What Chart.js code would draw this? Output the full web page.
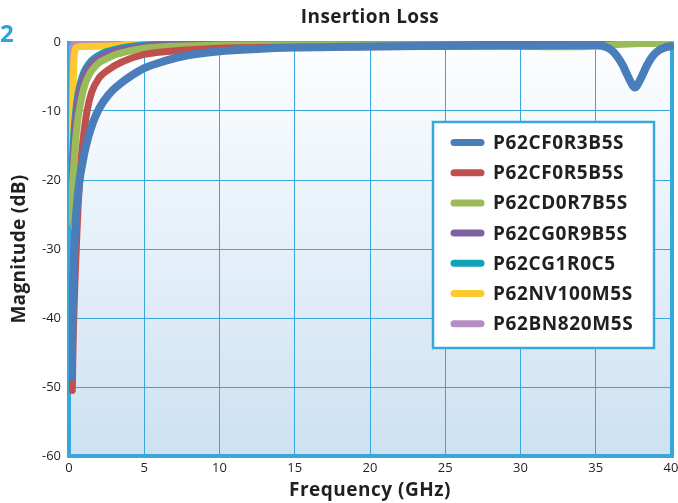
<!DOCTYPE html>
<html>
<head>
<meta charset="utf-8">
<script src="https://cdn.jsdelivr.net/npm/chart.js@4.4.1/dist/chart.umd.min.js"></script>
<style>
html,body{margin:0;padding:0;background:#ffffff;}
#wrap{position:relative;width:678px;height:503px;}
</style>
</head>
<body>
<div id="wrap"><canvas id="c"></canvas></div>
<script>
// ---- data ----
const seriesNames = ['P62CF0R3B5S','P62CF0R5B5S','P62CD0R7B5S','P62CG0R9B5S','P62CG1R0C5','P62NV100M5S','P62BN820M5S'];
const seriesColors = ['#4a7ebb','#c0504d','#9bbb59','#7f63a1','#0fa3b6','#fdc92e','#b48ec3'];

const freqBlue = [0.15,0.2,0.28,0.4,0.55,0.7,0.9,1.05,1.3,1.6,1.9,2.3,2.9,3.5,4,5,6,7.5,10,12.5,15,20,25,30,35,35.5,36,36.4,36.8,37.1,37.4,37.6,37.8,38.1,38.4,38.8,39.2,39.6,40];
const magBlue  = [-48.5,-43,-34.5,-27.5,-23,-20,-17.5,-15.8,-13.6,-11.6,-10.1,-8.6,-7.0,-5.9,-5.1,-3.8,-3.0,-2.1,-1.35,-1.0,-0.8,-0.65,-0.55,-0.5,-0.45,-0.6,-1.1,-2.0,-3.4,-4.8,-6.1,-6.6,-6.1,-4.8,-3.4,-2.0,-1.2,-0.8,-0.6];

const freqRed = [0.22,0.25,0.3,0.4,0.5,0.6,0.7,0.85,1.0,1.2,1.5,2,2.5,3.5,5,7.5,10,15,20,25,30,35,35.5,36,36.4,36.8,37.1,37.4,37.6,37.8,38.1,38.4,38.8,39.2,39.6,40];
const magRed  = [-50.5,-46,-41,-34.5,-29,-24,-20.5,-16,-13,-10,-7.3,-5.2,-4.2,-2.9,-1.8,-1.2,-0.9,-0.75,-0.7,-0.6,-0.55,-0.5,-0.6,-1.1,-2.0,-3.4,-4.8,-6.1,-6.6,-6.1,-4.8,-3.4,-2.0,-1.2,-0.8,-0.6];

const freqGreen = [0.1,0.2,0.3,0.45,0.6,0.8,1.0,1.3,1.6,2,2.5,3,4,5,7,10,15,20,25,30,33,35,36.5,38,40];
const magGreen  = [-26,-22,-18.5,-14,-11,-8.5,-6.6,-4.9,-3.9,-3.0,-2.4,-1.9,-1.3,-0.9,-0.6,-0.45,-0.4,-0.4,-0.45,-0.6,-0.7,-0.6,-0.35,-0.2,-0.2];

const freqPurple = [0.1,0.2,0.3,0.45,0.6,0.8,1.0,1.3,1.6,2,2.5,3,4,5,7,10,20,30,40];
const magPurple  = [-26,-20,-15.5,-11,-8.3,-6.2,-4.8,-3.6,-2.8,-2.2,-1.7,-1.3,-0.9,-0.6,-0.35,-0.25,-0.2,-0.2,-0.2];

const freqTeal = [0.1,0.2,0.3,0.45,0.6,0.8,1.0,1.3,1.6,2,2.5,3,4,5,7,10,20,30,40];
const magTeal  = [-26,-19,-14,-10,-7.5,-5.6,-4.3,-3.2,-2.5,-1.9,-1.4,-1.1,-0.7,-0.45,-0.25,-0.15,-0.1,-0.1,-0.1];

const freqYellow = [0.15,0.22,0.28,0.34,0.42,0.6,1,2,3,3.5,4,4.5,5,10,20,30,40];
const magYellow  = [-26,-15,-6,-2.2,-1.0,-0.7,-0.65,-0.6,-0.55,-0.45,-0.2,-0.05,0,0,0,0,0];

const freqLav = [0.1,0.13,0.17,0.22,0.3,0.5,1,40];
const magLav  = [-26,-12,-4,-1,-0.3,-0.1,0,0];

const xTickValues = [0,5,10,15,20,25,30,35,40];
const yTickValues = [-60,-50,-40,-30,-20,-10,0];

const chartTitle = 'Insertion Loss';
const xTitle = 'Frequency (GHz)';
const yTitle = 'Magnitude (dB)';
const figureNumber = '2';

const allFreq = [freqBlue,freqRed,freqGreen,freqPurple,freqTeal,freqYellow,freqLav];
const allMag  = [magBlue,magRed,magGreen,magPurple,magTeal,magYellow,magLav];

// ---- styling ----
const FONT = "'Open Sans', 'Noto Sans', sans-serif";
const TEXT = '#231f20';
const FRAME = '#38a8dc';

const datasets = seriesNames.map((name, i) => ({
  label: name,
  data: allFreq[i].map((f, k) => ({x: f, y: allMag[i][k]})),
  borderColor: seriesColors[i],
  backgroundColor: seriesColors[i],
  borderWidth: i === 0 ? 8 : 7,
  borderCapStyle: 'round',
  borderJoinStyle: 'round',
  pointRadius: 0,
  fill: false,
  cubicInterpolationMode: 'monotone',
  clip: {left: 0, top: 1, right: 3, bottom: 0}
}));

function spacedText(ctx, txt, x, y, spacing) {
  ctx.letterSpacing = spacing;
  ctx.fillText(txt, x, y);
  ctx.letterSpacing = '0px';
}

const bgPlugin = {
  id: 'bg',
  beforeDraw(chart) {
    const {ctx, chartArea: a} = chart;
    const g = ctx.createLinearGradient(0, a.top, 0, a.bottom);
    g.addColorStop(0, '#fdfeff');
    g.addColorStop(1, '#cde1f2');
    ctx.save();
    ctx.fillStyle = g;
    ctx.fillRect(a.left, a.top, a.right - a.left, a.bottom - a.top);
    ctx.restore();
  },
  beforeDatasetsDraw(chart) {
    const {ctx, chartArea: a} = chart;
    ctx.save();
    ctx.strokeStyle = FRAME;
    ctx.lineWidth = 2;
    ctx.beginPath(); ctx.moveTo(a.left, a.top); ctx.lineTo(a.right, a.top); ctx.stroke();
    ctx.lineWidth = 4;
    ctx.beginPath();
    ctx.moveTo(a.left, a.top - 1); ctx.lineTo(a.left, a.bottom);
    ctx.lineTo(a.right + 1, a.bottom);
    ctx.moveTo(a.right + 1, a.top - 1); ctx.lineTo(a.right + 1, a.bottom + 2);
    ctx.stroke();
    ctx.restore();
  },
  afterDatasetsDraw(chart) {
    const {ctx} = chart;
    const bx = 433, by = 122, bw = 221, bh = 226;
    ctx.save();
    ctx.fillStyle = '#ffffff';
    ctx.fillRect(bx, by, bw, bh);
    ctx.strokeStyle = FRAME;
    ctx.lineWidth = 2.5;
    ctx.strokeRect(bx, by, bw, bh);
    ctx.font = "bold 19px " + FONT;
    ctx.textBaseline = 'middle';
    ctx.textAlign = 'left';
    chart.data.datasets.forEach((ds, i) => {
      const y = 142.5 + i * 30.2;
      ctx.strokeStyle = ds.borderColor;
      ctx.lineWidth = 7;
      ctx.lineCap = 'round';
      ctx.beginPath(); ctx.moveTo(454, y); ctx.lineTo(481, y); ctx.stroke();
      ctx.fillStyle = TEXT;
      spacedText(ctx, ds.label, 493, y + 1, '0.6px');
    });
    ctx.restore();
  },
  afterDraw(chart) {
    const {ctx, chartArea: a} = chart;
    const cx = (a.left + a.right) / 2;
    const cy = (a.top + a.bottom) / 2;
    ctx.save();
    ctx.fillStyle = '#2fa3dc';
    ctx.font = "bold 24px " + FONT;
    ctx.textBaseline = 'alphabetic';
    ctx.textAlign = 'left';
    ctx.fillText(figureNumber, 0, 42);

    ctx.fillStyle = TEXT;
    ctx.textAlign = 'center';
    ctx.textBaseline = 'middle';
    ctx.font = "bold 19px " + FONT;
    spacedText(ctx, chartTitle, cx, 18, '0.4px');
    spacedText(ctx, xTitle, cx, 491, '0.5px');
    ctx.translate(20, cy);
    ctx.rotate(-Math.PI / 2);
    spacedText(ctx, yTitle, 0, 0, '0.3px');
    ctx.restore();
  }
};

new Chart(document.getElementById('c'), {
  type: 'line',
  data: {datasets},
  plugins: [bgPlugin],
  options: {
    responsive: true,
    maintainAspectRatio: false,
    animation: false,
    events: [],
    layout: {padding: {left: 0, right: 0, top: 42, bottom: 0}},
    plugins: {
      legend: {display: false},
      tooltip: {enabled: false},
      title: {display: false}
    },
    scales: {
      x: {
        type: 'linear',
        min: 0, max: 40,
        afterBuildTicks(s) { s.ticks = xTickValues.map(v => ({value: v})); },
        afterFit(s) { s.height = 47; s.paddingRight = 7; s.paddingLeft = 0; },
        grid: {color: FRAME, lineWidth: 1, drawTicks: false},
        border: {display: false},
        ticks: {color: TEXT, font: {family: FONT, size: 13}, padding: 4, maxRotation: 0},
        title: {display: false}
      },
      y: {
        type: 'linear',
        min: -60, max: 0,
        afterBuildTicks(s) { s.ticks = yTickValues.map(v => ({value: v})); },
        afterFit(s) { s.width = 69; },
        grid: {color: FRAME, lineWidth: 1, drawTicks: false},
        border: {display: false},
        ticks: {color: TEXT, font: {family: FONT, size: 13}, padding: 8},
        title: {display: false}
      }
    }
  }
});
</script>
</body>
</html>
